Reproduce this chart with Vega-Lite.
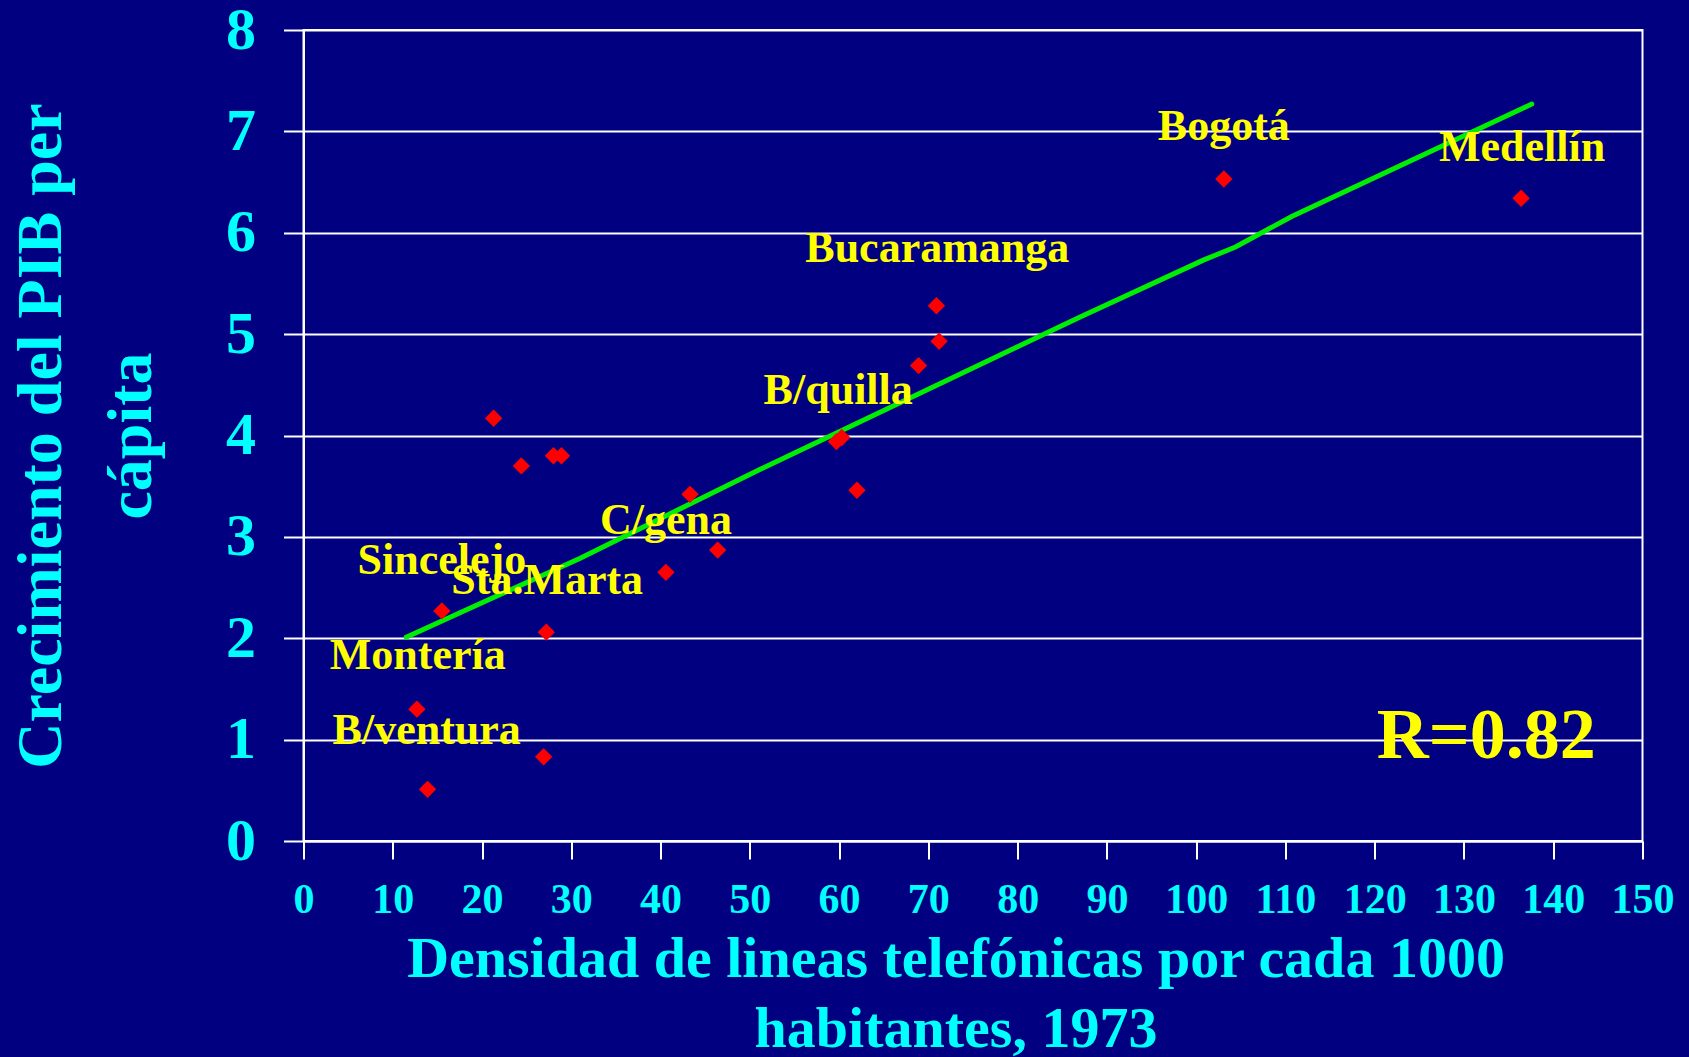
{
  "$schema": "https://vega.github.io/schema/vega-lite/v6.json",
  "width": 1339,
  "height": 811,
  "autosize": {"type": "none"},
  "padding": {"left": 303.5, "top": 30, "right": 46.5, "bottom": 216},
  "background": "#000080",
  "config": {
    "view": {"stroke": "#FFFFFF", "strokeWidth": 2, "fill": "#000080"},
    "font": "Liberation Serif"
  },
  "datasets": {
    "points": [
      {"densidad": 21.3, "crecimiento": 4.17},
      {"densidad": 24.4, "crecimiento": 3.70},
      {"densidad": 28.0, "crecimiento": 3.80},
      {"densidad": 28.9, "crecimiento": 3.80},
      {"densidad": 43.3, "crecimiento": 3.42},
      {"densidad": 46.4, "crecimiento": 2.87},
      {"densidad": 40.6, "crecimiento": 2.65},
      {"densidad": 15.5, "crecimiento": 2.27},
      {"densidad": 27.2, "crecimiento": 2.06},
      {"densidad": 12.7, "crecimiento": 1.30},
      {"densidad": 26.9, "crecimiento": 0.83},
      {"densidad": 13.9, "crecimiento": 0.51},
      {"densidad": 70.9, "crecimiento": 5.28},
      {"densidad": 71.2, "crecimiento": 4.93},
      {"densidad": 68.9, "crecimiento": 4.69},
      {"densidad": 59.7, "crecimiento": 3.94},
      {"densidad": 60.3, "crecimiento": 3.98},
      {"densidad": 62.0, "crecimiento": 3.46},
      {"densidad": 103.1, "crecimiento": 6.53},
      {"densidad": 136.4, "crecimiento": 6.34}
    ],
    "trend": [
      {"densidad": 11.5, "crecimiento": 2.01},
      {"densidad": 31.0, "crecimiento": 2.79},
      {"densidad": 51.0, "crecimiento": 3.66},
      {"densidad": 87.0, "crecimiento": 5.17},
      {"densidad": 100.8, "crecimiento": 5.73},
      {"densidad": 104.4, "crecimiento": 5.86},
      {"densidad": 110.7, "crecimiento": 6.16},
      {"densidad": 137.6, "crecimiento": 7.27}
    ],
    "labels": [
      {"ciudad": "Bogotá", "densidad": 103.1, "crecimiento": 7.04},
      {"ciudad": "Medellín", "densidad": 136.5, "crecimiento": 6.84},
      {"ciudad": "Bucaramanga", "densidad": 71.0, "crecimiento": 5.84},
      {"ciudad": "B/quilla", "densidad": 59.9, "crecimiento": 4.44},
      {"ciudad": "C/gena", "densidad": 40.6, "crecimiento": 3.16},
      {"ciudad": "Sincelejo", "densidad": 15.5, "crecimiento": 2.76},
      {"ciudad": "Sta.Marta", "densidad": 27.3, "crecimiento": 2.56},
      {"ciudad": "Montería", "densidad": 12.8, "crecimiento": 1.82},
      {"ciudad": "B/ventura", "densidad": 13.8, "crecimiento": 1.09}
    ],
    "rlabel": [
      {"texto": "R=0.82", "densidad": 132.5, "crecimiento": 1.04}
    ]
  },
  "layer": [
    {
      "data": {"name": "trend"},
      "mark": {"type": "line", "color": "#00EE00", "strokeWidth": 5, "strokeCap": "round"},
      "encoding": {
        "x": {
          "field": "densidad", "type": "quantitative",
          "scale": {"domain": [0, 150], "nice": false, "zero": false},
          "axis": {
            "values": [0, 10, 20, 30, 40, 50, 60, 70, 80, 90, 100, 110, 120, 130, 140, 150],
            "format": "d",
            "grid": false,
            "domainColor": "#FFFFFF", "domainWidth": 2,
            "tickColor": "#FFFFFF", "tickWidth": 2, "tickSize": 18,
            "labelColor": "#00FFFF", "labelFont": "Liberation Serif", "labelFontWeight": "bold",
            "labelFontSize": 42, "labelPadding": 20, "labelBaseline": "top",
            "labelOverlap": false, "labelFlush": false, "labelBound": false,
            "title": ["Densidad de lineas telefónicas por cada 1000", "habitantes, 1973"],
            "titleColor": "#00FFFF", "titleFont": "Liberation Serif", "titleFontWeight": "bold",
            "titleFontSize": 58, "titleLineHeight": 70,
            "titleBaseline": "middle", "titleAlign": "center",
            "titleX": 652, "titleY": 118
          }
        },
        "y": {
          "field": "crecimiento", "type": "quantitative",
          "scale": {"domain": [0, 8], "nice": false, "zero": false},
          "axis": {
            "values": [0, 1, 2, 3, 4, 5, 6, 7, 8],
            "format": "d",
            "grid": true, "gridColor": "#FFFFFF", "gridWidth": 2, "gridOpacity": 1,
            "domainColor": "#FFFFFF", "domainWidth": 2,
            "tickColor": "#FFFFFF", "tickWidth": 2, "tickSize": 20,
            "labelColor": "#00FFFF", "labelFont": "Liberation Serif", "labelFontWeight": "bold",
            "labelFontSize": 60, "labelPadding": 28,
            "labelOverlap": false, "labelFlush": false, "labelBound": false,
            "title": ["Crecimiento del PIB per", "cápita"],
            "titleColor": "#00FFFF", "titleFont": "Liberation Serif", "titleFontWeight": "bold",
            "titleFontSize": 64, "titleLineHeight": 90,
            "titleAngle": -90, "titleBaseline": "middle", "titleAlign": "center",
            "titleX": -262.5, "titleY": 405.5
          }
        },
        "order": {"field": "densidad", "type": "quantitative"}
      }
    },
    {
      "data": {"name": "points"},
      "mark": {"type": "point", "shape": "diamond", "filled": true, "color": "#FF0000", "size": 300, "opacity": 1},
      "encoding": {
        "x": {"field": "densidad", "type": "quantitative"},
        "y": {"field": "crecimiento", "type": "quantitative"}
      }
    },
    {
      "data": {"name": "labels"},
      "mark": {"type": "text", "color": "#FFFF00", "font": "Liberation Serif", "fontWeight": "bold", "fontSize": 44, "align": "center", "baseline": "middle"},
      "encoding": {
        "x": {"field": "densidad", "type": "quantitative"},
        "y": {"field": "crecimiento", "type": "quantitative"},
        "text": {"field": "ciudad", "type": "nominal"}
      }
    },
    {
      "data": {"name": "rlabel"},
      "mark": {"type": "text", "color": "#FFFF00", "font": "Liberation Serif", "fontWeight": "bold", "fontSize": 72, "align": "center", "baseline": "middle"},
      "encoding": {
        "x": {"field": "densidad", "type": "quantitative"},
        "y": {"field": "crecimiento", "type": "quantitative"},
        "text": {"field": "texto", "type": "nominal"}
      }
    }
  ]
}
